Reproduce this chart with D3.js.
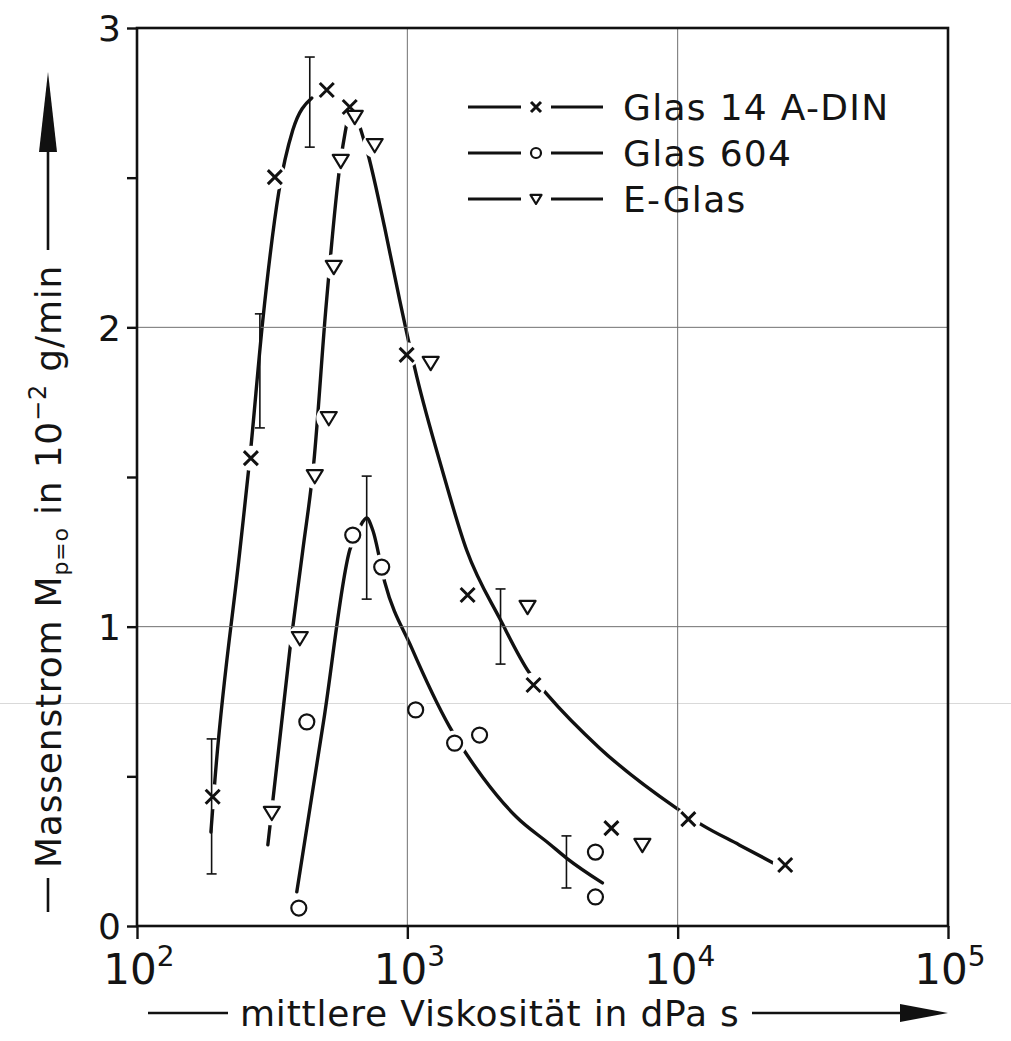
<!DOCTYPE html>
<html>
<head>
<meta charset="utf-8">
<script src="https://cdn.jsdelivr.net/npm/d3@7"></script>
<style>
  body { margin: 0; background: #fff; }
  svg { display: block; }
  text { font-family: "DejaVu Sans", sans-serif; fill: #141414; }
</style>
</head>
<body>
<svg id="chart" width="1011" height="1041"></svg>
<script>
// ---- axis ticks ----
const xTickValues = [1e2, 1e3, 1e4, 1e5];
const xTickExponents = ["2", "3", "4", "5"];
const yTickValues = [0, 1, 2, 3];
const yMinorTicks = [0.5, 1.5, 2.5];
const gridX = [1e3, 1e4];
const gridY = [1, 2];

// ---- measured points: [viscosity dPa s, mass flow 10^-2 g/min] ----
const seriesNames = ["Glas 14 A-DIN", "Glas 604", "E-Glas"];
const glas14 = [[190.5, 0.432], [263.8, 1.563], [323.5, 2.502], [503.5, 2.793], [612.3, 2.736],
  [994, 1.908], [1671, 1.106], [2929, 0.805], [5686, 0.327], [10950, 0.357], [24990, 0.204]];
const glas604 = [[396.8, 0.060], [424.8, 0.682], [628.1, 1.306], [803.9, 1.199], [1073.5, 0.722],
  [1495.8, 0.611], [1850.2, 0.638], [4964, 0.247], [4964, 0.097]];
const eGlas = [[315.3, 0.378], [400.2, 0.962], [454.6, 1.503], [512.2, 1.697], [534.4, 2.202],
  [567.1, 2.556], [639, 2.703], [757.3, 2.609], [1220, 1.881], [2784, 1.066], [7403, 0.271]];

// ---- scatter bands: [viscosity, low, high] ----
const errorBars = [[188.8, 0.174, 0.625], [284.8, 1.664, 2.045], [435.6, 2.602, 2.903],
  [707.4, 1.092, 1.503], [2212, 0.875, 1.126], [3878, 0.127, 0.301]];

// ---- hand-drawn trend curves ----
const glas14RiseFit = [[187.7, 0.314], [194.2, 0.488], [240.3, 1.256], [261.5, 1.563], [292.1, 2.025],
  [334.6, 2.452], [377.0, 2.659], [443.2, 2.766]];
const glas14FallFit = [[655.4, 2.693], [719.9, 2.569], [824.9, 2.332], [936.9, 2.091], [1037.5, 1.908],
  [1082.6, 1.837], [1339.5, 1.530], [1656.8, 1.256], [2212, 1.022], [2831, 0.845], [3300, 0.772],
  [5136, 0.595], [9888, 0.394], [12334, 0.337], [16898, 0.271], [23750, 0.200]];
const eGlasRiseFit = [[304.8, 0.271], [367.6, 0.922], [410.6, 1.256], [450.7, 1.547], [499.2, 2.058],
  [562.3, 2.536], [602.1, 2.699]];
const glas604Fit = [[390.0, 0.114], [490.8, 0.688], [612.3, 1.256], [666.8, 1.333], [707.4, 1.363],
  [744.6, 1.323], [824.9, 1.149], [1037.5, 0.929], [1433.6, 0.665], [1898, 0.498], [2534, 0.364],
  [3357, 0.274], [3879, 0.227], [5268, 0.144]];

const svg = d3.select("#chart");
const W = 1011, H = 1041;
const m = { l: 137, r: 948, t: 28, b: 926 };
const x = d3.scaleLog().domain([1e2, 1e5]).range([m.l, m.r]);
const y = d3.scaleLinear().domain([0, 3]).range([m.b, m.t]);
const ink = "#111";

svg.append("rect").attr("width", W).attr("height", H).attr("fill", "#fff");

// faint scanner streak across the sheet
svg.append("line").attr("x1", 0).attr("x2", W).attr("y1", 703.5).attr("y2", 703.5)
  .attr("stroke", "#d9d9d9").attr("stroke-width", 1);

// trend curves
const line = d3.line().x(d => x(d[0])).y(d => y(d[1])).curve(d3.curveMonotoneX);
const fits = [glas14RiseFit, glas14FallFit, eGlasRiseFit, glas604Fit];
svg.append("g").selectAll("path").data(fits).join("path")
  .attr("d", line).attr("fill", "none").attr("stroke", ink)
  .attr("stroke-width", 3.4).attr("stroke-linecap", "round");

// white clearing around each symbol so curves break at the markers
const allPoints = [...glas14, ...glas604, ...eGlas];
svg.append("g").selectAll("circle").data(allPoints).join("circle")
  .attr("cx", d => x(d[0])).attr("cy", d => y(d[1])).attr("r", 12.5).attr("fill", "#fff");

// grid
const grid = svg.append("g").attr("stroke", "#707070").attr("stroke-width", 1);
grid.selectAll(".gx").data(gridX).join("line")
  .attr("x1", d => x(d)).attr("x2", d => x(d)).attr("y1", m.t).attr("y2", m.b);
grid.selectAll(".gy").data(gridY).join("line")
  .attr("x1", m.l).attr("x2", m.r).attr("y1", d => y(d)).attr("y2", d => y(d));

// frame
svg.append("rect").attr("x", m.l).attr("y", m.t).attr("width", m.r - m.l).attr("height", m.b - m.t)
  .attr("fill", "none").attr("stroke", ink).attr("stroke-width", 2.6);

// y axis
const yAxis = svg.append("g").attr("transform", `translate(${m.l},0)`)
  .call(d3.axisLeft(y).tickValues([...yTickValues, ...yMinorTicks]).tickSize(10)
    .tickFormat(d => yTickValues.includes(d) ? String(d) : ""));
yAxis.select(".domain").remove();
yAxis.selectAll(".tick line").attr("stroke", ink).attr("stroke-width", 2.4);
yAxis.selectAll(".tick text").attr("font-size", 36).attr("x", -16).attr("dy", "0.36em")
  .style("font-family", "DejaVu Sans").attr("fill", ink);

// x axis
const xAxis = svg.append("g").attr("transform", `translate(0,${m.b})`)
  .call(d3.axisBottom(x).tickValues(xTickValues).tickSize(13).tickFormat(""));
xAxis.select(".domain").remove();
xAxis.selectAll(".tick line").attr("stroke", ink).attr("stroke-width", 2.4);
const xl = svg.append("g").selectAll("text").data(xTickValues).join("text")
  .attr("x", d => x(d) + 2).attr("y", 984).attr("text-anchor", "middle").attr("font-size", 42);
xl.append("tspan").text("10");
xl.append("tspan").attr("font-size", 28).attr("dy", -18).text((d, i) => xTickExponents[i]);

// scatter bands
const eb = svg.append("g").attr("stroke", ink).attr("stroke-width", 1.6);
eb.selectAll(".v").data(errorBars).join("line")
  .attr("x1", d => x(d[0])).attr("x2", d => x(d[0])).attr("y1", d => y(d[1])).attr("y2", d => y(d[2]));
eb.selectAll(".lo").data(errorBars).join("line")
  .attr("x1", d => x(d[0]) - 5).attr("x2", d => x(d[0]) + 5).attr("y1", d => y(d[1])).attr("y2", d => y(d[1]));
eb.selectAll(".hi").data(errorBars).join("line")
  .attr("x1", d => x(d[0]) - 5).attr("x2", d => x(d[0]) + 5).attr("y1", d => y(d[2])).attr("y2", d => y(d[2]));

// symbols
function cross(g, s) {
  g.append("path").attr("d", `M${-s},${-s}L${s},${s}M${-s},${s}L${s},${-s}`)
    .attr("stroke", ink).attr("stroke-width", 3).attr("fill", "none");
}
function ring(g, r) {
  g.append("circle").attr("r", r).attr("fill", "#fff").attr("stroke", ink).attr("stroke-width", 2.2);
}
function tri(g, s) {
  g.append("path").attr("d", `M${-s},${-s * 0.75}L${s},${-s * 0.75}L0,${s * 0.9}Z`)
    .attr("fill", "#fff").attr("stroke", ink).attr("stroke-width", 2.2).attr("stroke-linejoin", "round");
}
const markerSets = [[glas14, g => cross(g, 7)], [glas604, g => ring(g, 7.5)], [eGlas, g => tri(g, 8)]];
markerSets.forEach(([pts, draw]) => {
  svg.append("g").selectAll("g").data(pts).join("g")
    .attr("transform", d => `translate(${x(d[0])},${y(d[1])})`)
    .each(function () { draw(d3.select(this)); });
});

// legend
const legendDraw = [g => cross(g, 5), g => ring(g, 5), g => tri(g, 5.5)];
const lg = svg.append("g");
seriesNames.forEach((name, i) => {
  const cy = 107 + i * 46;
  const row = lg.append("g").attr("transform", `translate(0,${cy})`);
  row.append("line").attr("x1", 468).attr("x2", 521).attr("stroke", ink).attr("stroke-width", 3);
  row.append("line").attr("x1", 551).attr("x2", 603).attr("stroke", ink).attr("stroke-width", 3);
  legendDraw[i](row.append("g").attr("transform", "translate(536,0)"));
  row.append("text").attr("x", 623).attr("y", 13).attr("font-size", 36)
    .attr("letter-spacing", 1.3).text(name);
});

// x axis title with arrow
svg.append("line").attr("x1", 148).attr("x2", 228).attr("y1", 1013).attr("y2", 1013)
  .attr("stroke", ink).attr("stroke-width", 2.6);
svg.append("text").attr("x", 240).attr("y", 1026).attr("font-size", 36)
  .attr("letter-spacing", 0.8).text("mittlere Viskosität in dPa s");
svg.append("line").attr("x1", 752).attr("x2", 905).attr("y1", 1013).attr("y2", 1013)
  .attr("stroke", ink).attr("stroke-width", 2.6);
svg.append("path").attr("d", "M900,1004L948,1013L900,1022Z").attr("fill", ink);

// y axis title with arrow (rotated)
const yg = svg.append("g").attr("transform", "translate(61,0) rotate(-90)");
yg.append("line").attr("x1", -912).attr("x2", -878).attr("y1", -13).attr("y2", -13)
  .attr("stroke", ink).attr("stroke-width", 2.6);
const yt = yg.append("text").attr("x", -868).attr("y", 0).attr("font-size", 36).attr("letter-spacing", 0.8);
yt.append("tspan").text("Massenstrom M");
yt.append("tspan").attr("font-size", 22).attr("dy", 7).text("p=o");
yt.append("tspan").attr("dy", -7).text(" in 10");
yt.append("tspan").attr("font-size", 24).attr("dy", -15).text("−2");
yt.append("tspan").attr("dy", 15).text(" g/min");
yg.append("line").attr("x1", -250).attr("x2", -150).attr("y1", -13).attr("y2", -13)
  .attr("stroke", ink).attr("stroke-width", 2.6);
yg.append("path").attr("d", "M-152,-22L-72,-13L-152,-4Z").attr("fill", ink);
</script>
</body>
</html>
